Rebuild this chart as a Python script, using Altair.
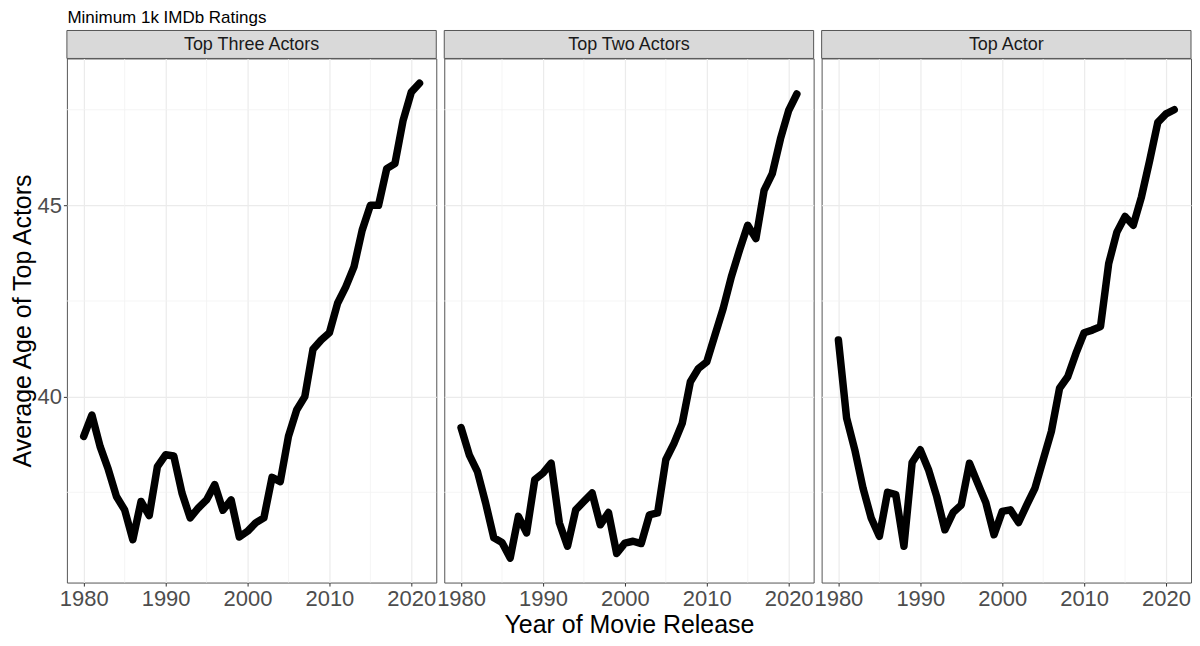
import altair as alt
import pandas as pd

years = list(range(1980, 2022))

top_three = [38.96, 39.52, 38.70, 38.10, 37.39, 37.04, 36.26, 37.26, 36.89, 38.17,
             38.48, 38.45, 37.48, 36.83, 37.09, 37.30, 37.70, 37.03, 37.30, 36.33,
             36.48, 36.70, 36.83, 37.89, 37.78, 38.96, 39.65, 40.00, 41.24, 41.48,
             41.67, 42.44, 42.87, 43.39, 44.35, 45.00, 45.00, 45.96, 46.09, 47.22,
             47.96, 48.19]

top_two = [39.19, 38.48, 38.04, 37.22, 36.31, 36.19, 35.78, 36.87, 36.44, 37.83,
           38.00, 38.26, 36.70, 36.09, 37.04, 37.26, 37.48, 36.65, 36.97, 35.90,
           36.17, 36.22, 36.16, 36.91, 36.96, 38.35, 38.78, 39.30, 40.39, 40.74,
           40.91, 41.61, 42.30, 43.13, 43.83, 44.48, 44.13, 45.39, 45.83, 46.74,
           47.48, 47.91]

top_one = [41.48, 39.44, 38.61, 37.61, 36.83, 36.35, 37.50, 37.44, 36.09, 38.28,
           38.61, 38.09, 37.39, 36.52, 36.97, 37.17, 38.26, 37.74, 37.23, 36.39,
           37.00, 37.04, 36.71, 37.17, 37.61, 38.35, 39.09, 40.22, 40.52, 41.13,
           41.67, 41.74, 41.83, 43.48, 44.30, 44.71, 44.48, 45.22, 46.17, 47.17,
           47.39, 47.50]

panel_names = ["Top Three Actors", "Top Two Actors", "Top Actor"]
panel_values = [top_three, top_two, top_one]

x_major = [1980, 1990, 2000, 2010, 2020]
x_minor = [1985, 1995, 2005, 2015]
y_major = [40, 45]
y_minor = [37.5, 42.5, 47.5]

X_DOMAIN = [1977.95, 2023.05]
Y_DOMAIN = [35.14, 48.84]

W, H = 370, 525
STRIP = 28
FONT = "Liberation Sans"

AXIS_STYLE = dict(
    labelFont=FONT, labelFontSize=22, labelColor="#4D4D4D",
    tickColor="#333333", tickSize=3.5, labelPadding=2,
    titleFont=FONT, titleFontSize=25, titleColor="black", titleFontWeight="normal",
    gridColor="#EBEBEB", gridWidth=1.2, domain=False,
)


def panel(name, vals, first, middle):
    df = pd.DataFrame({"year": years, "age": vals})
    xscale = alt.Scale(domain=X_DOMAIN, nice=False, zero=False)
    yscale = alt.Scale(domain=Y_DOMAIN, nice=False, zero=False)
    xaxis = alt.Axis(values=x_major, format="d",
                     title="Year of Movie Release" if middle else None,
                     labelOverlap=False, labelFlush=False, titlePadding=4,
                     **AXIS_STYLE)
    if first:
        yaxis = alt.Axis(values=y_major, title="Average Age of Top Actors",
                         titlePadding=1, **AXIS_STYLE)
    else:
        yaxis = alt.Axis(values=y_major, title=None, labels=False, ticks=False,
                         **AXIS_STYLE)
    vminor = alt.Chart(pd.DataFrame({"year": x_minor})).mark_rule(
        color="#F2F2F2", strokeWidth=0.8
    ).encode(x=alt.X("year:Q", scale=xscale, axis=xaxis))
    hminor = alt.Chart(pd.DataFrame({"age": y_minor})).mark_rule(
        color="#F2F2F2", strokeWidth=0.8
    ).encode(y=alt.Y("age:Q", scale=yscale, axis=yaxis))
    line = alt.Chart(df).mark_line(
        color="black", strokeWidth=7.5, strokeJoin="round", strokeCap="round"
    ).encode(
        x=alt.X("year:Q", scale=xscale, axis=xaxis),
        y=alt.Y("age:Q", scale=yscale, axis=yaxis),
    )
    strip_df = pd.DataFrame({"label": [name]})
    strip = alt.Chart(strip_df).mark_rect(
        fill="#D9D9D9", stroke="#555555", strokeWidth=1
    ).encode(x=alt.value(0), x2=alt.value(W), y=alt.value(-STRIP), y2=alt.value(0))
    text = alt.Chart(strip_df).mark_text(
        font=FONT, fontSize=18, color="#1A1A1A", baseline="middle", align="center"
    ).encode(x=alt.value(W / 2), y=alt.value(-STRIP / 2 + 1), text="label:N")
    return alt.layer(vminor, hminor, line, strip, text).properties(width=W, height=H)


panels = [panel(n, v, i == 0, i == 1) for i, (n, v) in enumerate(zip(panel_names, panel_values))]

chart = alt.hconcat(*panels, spacing=8, bounds="flush").properties(
    title=alt.TitleParams("Minimum 1k IMDb Ratings", anchor="start", font=FONT,
                          fontSize=17, fontWeight="normal", color="black",
                          offset=3, dx=57),
    padding={"left": 2, "top": 0, "right": 0, "bottom": 0},
    background="white",
).configure_view(
    stroke="#555555", strokeWidth=1
)

chart.save("out.html", embed_options={"renderer": "svg", "actions": False})
